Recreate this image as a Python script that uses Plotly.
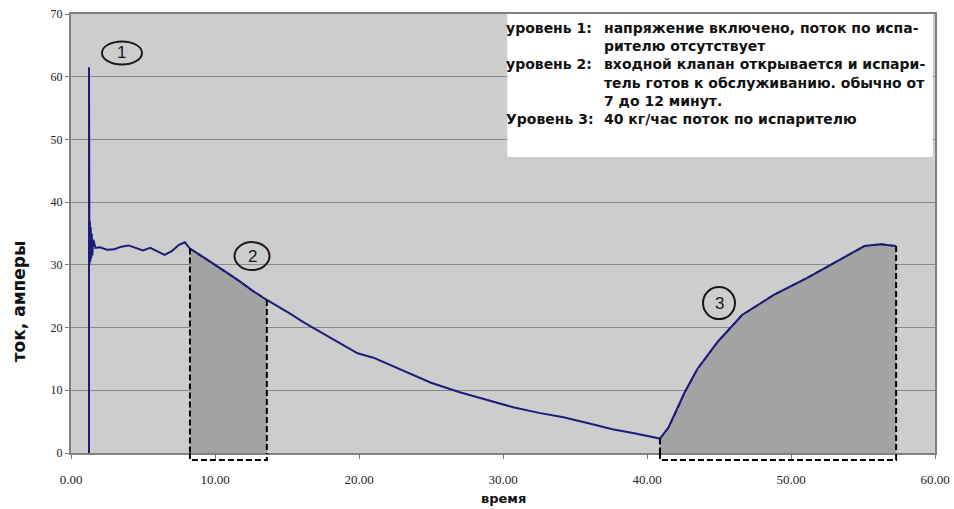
import plotly.graph_objects as go

# ---------------- data ----------------
time_min = [1.25, 1.25, 1.28, 1.31, 1.34, 1.37, 1.40, 1.44, 1.48, 1.55, 1.7,
            2.0, 2.5, 3.0, 3.5, 4.0, 4.5, 5.0, 5.5, 6.0, 6.5, 7.0, 7.5, 7.9,
            8.26, 9.0, 9.9, 10.8, 11.7, 12.6, 13.6, 14.5, 15.3, 16.1, 17.5,
            18.8, 19.9, 21.0, 22.2, 23.3, 25.0, 27.0, 28.8, 30.7, 32.5, 34.2,
            36.0, 37.6, 39.2, 40.5, 40.9, 41.5, 42.0, 42.6, 43.5, 44.9, 46.6,
            48.8, 51.1, 53.2, 55.1, 56.2, 57.3]
current_a = [0, 61.5, 30, 37, 30.5, 36, 31, 35, 31.5, 34, 32.7,
             32.8, 32.4, 32.5, 32.9, 33.1, 32.7, 32.3, 32.7, 32.1, 31.6, 32.2, 33.2, 33.6,
             32.6, 31.5, 30.2, 28.8, 27.4, 25.9, 24.4, 23.2, 22.1, 20.9, 19.1,
             17.4, 15.9, 15.2, 14.0, 12.8, 11.2, 9.7, 8.5, 7.3, 6.4, 5.7,
             4.7, 3.8, 3.1, 2.5, 2.3, 4.1, 6.5, 9.6, 13.4, 17.7, 22.0,
             25.2, 27.9, 30.6, 33.0, 33.3, 33.0]

region_start = [8.26, 40.9]
region_end = [13.6, 57.3]

x_ticks = [0, 10, 20, 30, 40, 50, 60]
y_ticks = [0, 10, 20, 30, 40, 50, 60, 70]

note_labels = ["уровень 1:", "", "уровень 2:", "", "", "Уровень 3:"]
note_lines = ["напряжение включено, поток по испа-",
              "рителю отсутствует",
              "входной клапан открывается и испари-",
              "тель готов к обслуживанию. обычно от",
              "7 до 12 минут.",
              "40 кг/час поток по испарителю"]

stage_labels = ["1", "2", "3"]

x_title = "время"
y_title = "ток, амперы"

# ---------------- styles / layout positions ----------------
SANS = "Liberation Sans, Arial, sans-serif"
WIDE = "DejaVu Sans, Verdana, sans-serif"
SERIF = "Liberation Serif, Times New Roman, serif"
PLOT_BG = "#cdcdcd"
GRID = "#8a8a8a"
AXIS = "#808080"
FILL = "#a3a3a3"
LINE = "#1c1c7c"

stage_pos = [(3.54, 63.8, 20, 11.5), (12.57, 31.4, 17.5, 14), (45.0, 23.9, 16, 16)]

lookup = dict(zip(time_min, current_a))

fig = go.Figure()

# shaded regions
for a, b in zip(region_start, region_end):
    xs = [t for t in time_min if a <= t <= b]
    ys = [lookup[t] for t in xs]
    fig.add_trace(go.Scatter(
        x=xs, y=ys, mode="lines", fill="tozeroy", fillcolor=FILL,
        line=dict(color="black", width=1.6, dash="6px,3px"),
        hoverinfo="skip", showlegend=False))

# main curve
fig.add_trace(go.Scatter(
    x=time_min, y=current_a, mode="lines",
    line=dict(color=LINE, width=2), showlegend=False))

shapes = []
# note box
shapes.append(dict(type="rect", xref="x", yref="y", x0=30.3, x1=59.85, y0=47.2, y1=70,
                   fillcolor="white", line=dict(width=0), layer="above"))
# dashed outlines of regions
dash = dict(color="black", width=2, dash="6px,3px")
off = -0.016
for a, b in zip(region_start, region_end):
    shapes.append(dict(type="line", xref="x", yref="y", x0=a, x1=a,
                       y0=lookup[a], y1=0, line=dash, layer="above"))
    shapes.append(dict(type="line", xref="x", yref="y", x0=b, x1=b,
                       y0=lookup[b], y1=0, line=dash, layer="above"))
    shapes.append(dict(type="path", xref="x", yref="y domain",
                       path=f"M {a},0 L {a},{off} L {b},{off} L {b},0",
                       line=dash, layer="above"))
# circles around stage numbers
for cx, cy, hw, hh in stage_pos:
    shapes.append(dict(type="circle", xref="x", yref="y",
                       xsizemode="pixel", ysizemode="pixel",
                       xanchor=cx, yanchor=cy, x0=-hw, x1=hw, y0=-hh, y1=hh,
                       line=dict(color="#1a1a1a", width=2), layer="above"))

annotations = []
for (cx, cy, hw, hh), lab in zip(stage_pos, stage_labels):
    annotations.append(dict(x=cx, y=cy, xref="x", yref="y", text=lab, showarrow=False,
                            font=dict(family=SANS, size=17, color="#1a1a1a")))

annotations.append(dict(x=30.07, y=69.4, xref="x", yref="y", xanchor="left", yanchor="top",
                        align="left", showarrow=False,
                        text="<br>".join(f"<b>{s}</b>" if s else " " for s in note_labels),
                        font=dict(family=WIDE, size=14, color="#111")))
annotations.append(dict(x=36.9, y=69.4, xref="x", yref="y", xanchor="left", yanchor="top",
                        align="left", showarrow=False,
                        text="<br>".join(f"<b>{s}</b>" for s in note_lines),
                        font=dict(family=WIDE, size=14, color="#111")))

annotations.append(dict(x=-0.060, y=0.346, xref="paper", yref="paper", textangle=-90,
                        xanchor="center", yanchor="middle",
                        text=f"<b>{y_title}</b>", showarrow=False,
                        font=dict(family=WIDE, size=17, color="#111")))
annotations.append(dict(x=0.5, y=-0.103, xref="paper", yref="paper",
                        xanchor="center", yanchor="middle",
                        text=f"<b>{x_title}</b>", showarrow=False,
                        font=dict(family=WIDE, size=13, color="#111")))

fig.update_layout(
    width=954, height=509,
    margin=dict(l=71, r=19, t=14, b=56),
    paper_bgcolor="white", plot_bgcolor=PLOT_BG,
    shapes=shapes, annotations=annotations,
    xaxis=dict(range=[0, 60], tickvals=x_ticks, tickformat=".2f",
               showgrid=False, zeroline=False, automargin=False,
               showline=True, linecolor=AXIS, linewidth=2, mirror=True,
               ticks="outside", ticklen=4, tickcolor=AXIS, tickwidth=1,
               ticklabelstandoff=9,
               tickfont=dict(family=SERIF, size=13, color="#222")),
    yaxis=dict(range=[0, 70], tickvals=y_ticks, automargin=False,
               showgrid=True, gridcolor=GRID, gridwidth=1, zeroline=False,
               showline=True, linecolor=AXIS, linewidth=2, mirror=True,
               ticks="outside", ticklen=4, tickcolor=AXIS, tickwidth=1,
               ticklabelstandoff=0,
               tickfont=dict(family=SERIF, size=12, color="#222")),
)

fig.write_html("out.html", config={"displayModeBar": False},
               post_script="document.body.style.margin='0';")
